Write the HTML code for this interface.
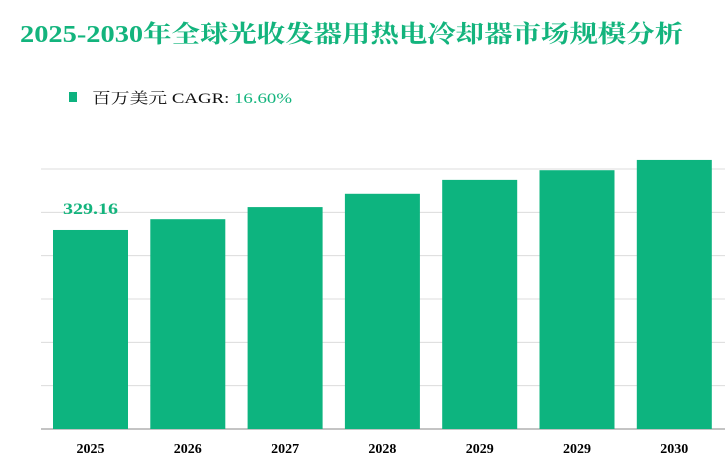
<!DOCTYPE html>
<html><head><meta charset="utf-8"><style>
body{margin:0;width:727px;height:468px;background:#fff;overflow:hidden;font-family:"Liberation Serif","Noto Serif CJK SC",serif;}
</style></head><body>
<svg id="c" width="727" height="468">
<text x="20" y="42" textLength="663" lengthAdjust="spacingAndGlyphs" font-size="24" fill="#13b47d" font-weight="bold">2025-2030年全球光收发器用热电冷却器市场规模分析</text>
<rect x="69" y="92" width="8" height="10" fill="#0db27f"/>
<text x="92" y="103" font-size="15" textLength="200" lengthAdjust="spacingAndGlyphs"><tspan fill="#111">百万美元 CAGR: </tspan><tspan fill="#13b47d">16.60%</tspan></text>
<g id="grid"></g><g id="bars"></g><g id="labels"></g>
</svg>
<script>
const categories=["2025","2026","2027","2028","2029","2029","2030"];
const values=[329.16,347,367,389,412,428,445];
const printed=["329.16"];
const yMax=430, nGrid=6;
const base=429, yTop=169, x0=41, x1=725, x0b=53, step=97.3, bw=75;
const y=v=>base-(v/yMax)*(base-yTop);
const ns="http://www.w3.org/2000/svg";
const G=document.getElementById('grid'),B=document.getElementById('bars'),L=document.getElementById('labels');
for(let i=1;i<=nGrid;i++){const l=document.createElementNS(ns,'line');const yy=y(yMax*i/nGrid);
l.setAttribute('x1',x0);l.setAttribute('x2',x1);l.setAttribute('y1',yy);l.setAttribute('y2',yy);l.setAttribute('stroke','#dcdcdc');

G.appendChild(l);}
const ax=document.createElementNS(ns,'line');ax.setAttribute('x1',x0);ax.setAttribute('x2',x1);ax.setAttribute('y1',base);ax.setAttribute('y2',base);ax.setAttribute('stroke','#888');

G.appendChild(ax);
categories.forEach((c,i)=>{const x=x0b+i*step;const r=document.createElementNS(ns,'rect');
r.setAttribute('x',x);r.setAttribute('width',bw);r.setAttribute('y',y(values[i]));r.setAttribute('height',base-y(values[i]));r.setAttribute('fill','#0db47f');

B.appendChild(r);
const t=document.createElementNS(ns,'text');t.setAttribute('x',x+bw/2);t.setAttribute('y',base+24);t.setAttribute('text-anchor','middle');t.setAttribute('font-size','14');t.setAttribute('font-weight','bold');t.textContent=c;

L.appendChild(t);
if(printed[i]){const v=document.createElementNS(ns,'text');v.setAttribute('x',x+bw/2);v.setAttribute('y',y(values[i])-16);v.setAttribute('text-anchor','middle');v.setAttribute('font-size','16');v.setAttribute('font-weight','bold');v.setAttribute('fill','#13b47d');v.setAttribute('textLength','55');v.setAttribute('lengthAdjust','spacingAndGlyphs');v.textContent=printed[i];

L.appendChild(v);}
});
</script>
</body></html>
